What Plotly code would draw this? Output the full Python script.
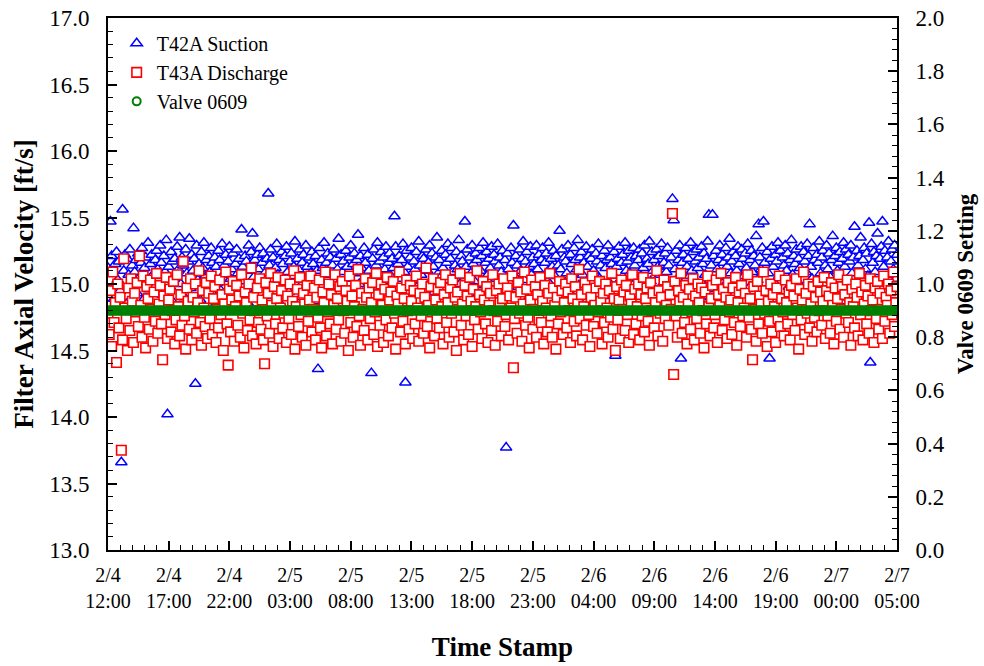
import pandas as pd
import plotly.graph_objects as go

# Logged samples, one every 6 minutes from 2/4 12:00 to 2/7 05:00
START = "2024-02-04 12:00"
STEP = "6min"
SCALE = 100.0  # velocities are stored in hundredths of ft/s

t42a_suction = [
    1512, 1496, 1547, 1521, 1508, 1489, 1515, 1524, 1503, 1517, 1495, 1366, 1556, 1510, 1522, 1485, 1519, 1507, 1526, 1499, 1514,
    1542, 1509, 1518, 1493, 1523, 1505, 1516, 1527, 1488, 1512, 1520, 1501, 1531, 1496, 1515, 1522, 1507, 1479, 1518, 1525, 1511,
    1504, 1529, 1516, 1492, 1521, 1509, 1533, 1402, 1513, 1498, 1524, 1517, 1486, 1519, 1506, 1528, 1511, 1535, 1500, 1520, 1514,
    1490, 1526, 1508, 1517, 1534, 1497, 1522, 1510, 1519, 1425, 1529, 1503, 1515, 1488, 1524, 1512, 1531, 1506, 1518, 1494, 1521,
    1509, 1527, 1516, 1483, 1520, 1513, 1501, 1525, 1518, 1495, 1530, 1507, 1514, 1522, 1489, 1517, 1528, 1504, 1511, 1523, 1498,
    1515, 1526, 1508, 1519, 1492, 1541, 1513, 1502, 1521, 1517, 1486, 1529, 1510, 1524, 1538, 1505, 1518, 1496, 1522, 1511, 1527,
    1500, 1516, 1523, 1508, 1491, 1519, 1568, 1514, 1526, 1503, 1520, 1497, 1512, 1530, 1507, 1518, 1485, 1524, 1515, 1501, 1521,
    1528, 1509, 1494, 1517, 1523, 1506, 1513, 1532, 1499, 1519, 1511, 1526, 1490, 1516, 1522, 1504, 1529, 1513, 1497, 1520, 1508,
    1524, 1515, 1487, 1521, 1510, 1436, 1527, 1503, 1518, 1512, 1531, 1495, 1516, 1523, 1507, 1520, 1492, 1514, 1526, 1501, 1519,
    1511, 1534, 1498, 1522, 1509, 1517, 1488, 1525, 1513, 1504, 1520, 1529, 1496, 1515, 1523, 1508, 1518, 1537, 1500, 1521, 1512,
    1493, 1527, 1516, 1505, 1522, 1510, 1499, 1433, 1519, 1526, 1508, 1514, 1531, 1490, 1517, 1524, 1502, 1520, 1511, 1528, 1495,
    1516, 1523, 1506, 1519, 1512, 1551, 1528, 1497, 1515, 1521, 1504, 1518, 1530, 1509, 1426, 1525, 1513, 1489, 1520, 1527, 1503,
    1517, 1511, 1524, 1498, 1532, 1514, 1507, 1521, 1519, 1485, 1526, 1510, 1516, 1529, 1501, 1523, 1513, 1494, 1520, 1535, 1508,
    1518, 1505, 1525, 1512, 1491, 1522, 1516, 1530, 1503, 1519, 1527, 1509, 1496, 1514, 1524, 1511, 1533, 1500, 1521, 1517, 1506,
    1547, 1513, 1526, 1493, 1520, 1508, 1529, 1515, 1502, 1523, 1518, 1487, 1527, 1510, 1521, 1531, 1499, 1516, 1524, 1507, 1519,
    1512, 1528, 1495, 1522, 1517, 1504, 1530, 1514, 1520, 1509, 1525, 1490, 1518, 1377, 1523, 1511, 1501, 1527, 1516, 1544, 1506,
    1521, 1514, 1498, 1526, 1510, 1519, 1532, 1503, 1517, 1524, 1489, 1513, 1528, 1507, 1520, 1515, 1496, 1529, 1511, 1522, 1505,
    1518, 1527, 1492, 1516, 1523, 1509, 1531, 1500, 1519, 1513, 1525, 1506, 1521, 1497, 1514, 1540, 1511, 1526, 1503, 1520, 1517,
    1508, 1529, 1494, 1522, 1515, 1502, 1527, 1518, 1511, 1533, 1499, 1520, 1524, 1507, 1516, 1486, 1528, 1513, 1521, 1505, 1519,
    1526, 1510, 1497, 1523, 1517, 1530, 1504, 1514, 1521, 1491, 1525, 1512, 1518, 1529, 1501, 1520, 1515, 1507, 1524, 1446, 1513,
    1519, 1528, 1503, 1516, 1522, 1495, 1531, 1510, 1517, 1525, 1508, 1520, 1499, 1527, 1514, 1521, 1488, 1518, 1526, 1506, 1523,
    1512, 1529, 1497, 1519, 1515, 1532, 1502, 1524, 1510, 1518, 1493, 1526, 1513, 1521, 1507, 1530, 1500, 1516, 1523, 1509, 1527,
    1514, 1495, 1520, 1564, 1548, 1511, 1525, 1504, 1518, 1529, 1444, 1516, 1522, 1498, 1527, 1513, 1519, 1506, 1531, 1510, 1524,
    1501, 1517, 1526, 1512, 1520, 1490, 1528, 1515, 1523, 1507, 1519, 1532, 1552, 1503, 1514, 1552, 1521, 1496, 1525, 1511, 1518,
    1529, 1505, 1522, 1516, 1499, 1527, 1513, 1520, 1534, 1508, 1517, 1524, 1492, 1521, 1510, 1528, 1515, 1502, 1526, 1519, 1506,
    1523, 1512, 1530, 1497, 1518, 1525, 1509, 1521, 1514, 1536, 1503, 1545, 1520, 1511, 1527, 1547, 1516, 1494, 1524, 1508, 1444,
    1519, 1528, 1513, 1501, 1522, 1517, 1531, 1506, 1525, 1489, 1520, 1514, 1529, 1510, 1523, 1498, 1518, 1533, 1507, 1521, 1515,
    1526, 1502, 1519, 1512, 1528, 1495, 1524, 1517, 1509, 1530, 1521, 1545, 1513, 1504, 1527, 1518, 1491, 1522, 1516, 1532, 1508,
    1520, 1525, 1499, 1514, 1529, 1511, 1523, 1505, 1518, 1536, 1496, 1521, 1527, 1510, 1516, 1524, 1487, 1519, 1531, 1513, 1526,
    1503, 1522, 1517, 1529, 1508, 1520, 1543, 1500, 1525, 1514, 1521, 1535, 1497, 1518, 1527, 1511, 1523, 1506, 1546, 1441, 1530,
    1516, 1524, 1509, 1521, 1538, 1502, 1519, 1528, 1547, 1513, 1525, 1495, 1520, 1532, 1507, 1517, 1526, 1511, 1529, 1504, 1522,
]

t43a_discharge = [
    1478, 1462, 1495, 1453, 1509, 1471, 1486, 1441, 1500, 1467, 1490, 1375, 1458, 1519, 1482, 1474, 1450, 1497, 1465, 1504, 1487,
    1456, 1493, 1479, 1501, 1468, 1521, 1484, 1460, 1506, 1475, 1452, 1498, 1489, 1466, 1503, 1481, 1457, 1494, 1472, 1508, 1463,
    1485, 1499, 1470, 1443, 1491, 1477, 1505, 1459, 1488, 1496, 1464, 1480, 1502, 1455, 1473, 1507, 1483, 1461, 1492, 1469, 1517,
    1476, 1451, 1497, 1487, 1466, 1504, 1458, 1490, 1479, 1500, 1463, 1486, 1510, 1471, 1454, 1495, 1482, 1468, 1501, 1459, 1493,
    1474, 1506, 1462, 1489, 1498, 1456, 1481, 1467, 1503, 1477, 1492, 1450, 1485, 1509, 1470, 1439, 1496, 1464, 1488, 1502, 1457,
    1483, 1499, 1469, 1491, 1460, 1507, 1478, 1452, 1494, 1486, 1465, 1500, 1473, 1512, 1461, 1490, 1480, 1455, 1497, 1471, 1504,
    1466, 1488, 1458, 1440, 1501, 1476, 1493, 1463, 1508, 1484, 1453, 1498, 1470, 1489, 1505, 1459, 1482, 1495, 1467, 1478, 1503,
    1456, 1491, 1474, 1500, 1462, 1487, 1510, 1451, 1483, 1496, 1468, 1505, 1477, 1460, 1493, 1485, 1454, 1499, 1472, 1488, 1506,
    1464, 1481, 1497, 1458, 1490, 1475, 1503, 1467, 1452, 1494, 1486, 1509, 1461, 1479, 1500, 1470, 1492, 1455, 1484, 1507, 1466,
    1489, 1473, 1498, 1457, 1502, 1480, 1463, 1495, 1487, 1450, 1506, 1471, 1491, 1460, 1483, 1499, 1468, 1511, 1476, 1454, 1493,
    1481, 1465, 1504, 1490, 1458, 1497, 1474, 1486, 1501, 1462, 1479, 1508, 1453, 1492, 1469, 1500, 1484, 1456, 1496, 1473, 1505,
    1461, 1488, 1494, 1467, 1502, 1478, 1451, 1491, 1485, 1509, 1464, 1497, 1472, 1489, 1455, 1503, 1480, 1466, 1499, 1487, 1459,
    1495, 1470, 1506, 1482, 1457, 1493, 1476, 1500, 1463, 1490, 1512, 1468, 1484, 1452, 1498, 1479, 1504, 1461, 1488, 1474, 1496,
    1467, 1501, 1483, 1455, 1492, 1507, 1471, 1486, 1460, 1497, 1478, 1503, 1464, 1490, 1450, 1494, 1481, 1508, 1469, 1485, 1458,
    1499, 1476, 1491, 1462, 1505, 1487, 1453, 1496, 1473, 1483, 1510, 1466, 1492, 1479, 1459, 1502, 1488, 1470, 1498, 1456, 1484,
    1493, 1465, 1507, 1480, 1454, 1495, 1472, 1500, 1486, 1461, 1489, 1504, 1468, 1477, 1497, 1458, 1491, 1482, 1506, 1437, 1474,
    1490, 1463, 1501, 1478, 1494, 1457, 1485, 1509, 1469, 1496, 1475, 1452, 1488, 1503, 1466, 1481, 1498, 1460, 1492, 1473, 1505,
    1471, 1487, 1455, 1499, 1482, 1464, 1493, 1508, 1476, 1460, 1497, 1484, 1451, 1490, 1470, 1502, 1479, 1495, 1462, 1486, 1500,
    1467, 1494, 1480, 1456, 1504, 1489, 1472, 1498, 1461, 1485, 1511, 1474, 1492, 1458, 1483, 1501, 1469, 1496, 1477, 1453, 1490,
    1506, 1468, 1484, 1497, 1463, 1479, 1502, 1487, 1455, 1493, 1471, 1500, 1482, 1460, 1495, 1475, 1508, 1466, 1489, 1450, 1498,
    1473, 1488, 1459, 1503, 1481, 1494, 1465, 1499, 1477, 1456, 1491, 1485, 1507, 1462, 1496, 1470, 1483, 1500, 1458, 1492, 1476,
    1505, 1464, 1489, 1497, 1472, 1454, 1501, 1480, 1493, 1467, 1486, 1510, 1461, 1495, 1478, 1490, 1457, 1503, 1474, 1484, 1498,
    1469, 1492, 1481, 1553, 1432, 1502, 1476, 1460, 1495, 1487, 1508, 1463, 1490, 1471, 1499, 1455, 1485, 1496, 1466, 1479, 1504,
    1458, 1491, 1474, 1500, 1486, 1463, 1497, 1480, 1452, 1494, 1470, 1506, 1483, 1461, 1489, 1499, 1467, 1477, 1503, 1456, 1492,
    1484, 1508, 1465, 1496, 1473, 1490, 1459, 1501, 1479, 1488, 1462, 1497, 1471, 1505, 1454, 1486, 1494, 1468, 1499, 1476, 1482,
    1493, 1460, 1507, 1475, 1489, 1466, 1443, 1498, 1481, 1457, 1502, 1470, 1491, 1485, 1463, 1509, 1478, 1495, 1453, 1487, 1472,
    1500, 1464, 1492, 1483, 1456, 1497, 1474, 1506, 1468, 1489, 1479, 1461, 1503, 1486, 1470, 1494, 1458, 1499, 1477, 1491, 1465,
    1504, 1482, 1451, 1496, 1473, 1488, 1509, 1462, 1493, 1478, 1500, 1467, 1485, 1457, 1498, 1475, 1490, 1464, 1502, 1480, 1494,
    1469, 1487, 1505, 1459, 1495, 1476, 1491, 1463, 1501, 1484, 1455, 1497, 1472, 1489, 1507, 1466, 1481, 1498, 1460, 1492, 1478,
    1503, 1471, 1486, 1454, 1496, 1483, 1467, 1500, 1490, 1461, 1508, 1477, 1494, 1458, 1485, 1499, 1470, 1491, 1463, 1504, 1480,
    1488, 1456, 1497, 1474, 1502, 1466, 1493, 1481, 1459, 1506, 1472, 1490, 1484, 1500, 1463, 1495, 1477, 1509, 1468, 1486, 1498,
]

# Valve 0609 held at a fixed setting for the whole run
VALVE_0609_SETTING = 0.9
valve_0609 = [VALVE_0609_SETTING] * len(t42a_suction)

x_tick_labels = [
    "2/4<br>12:00", "2/4<br>17:00", "2/4<br>22:00", "2/5<br>03:00", "2/5<br>08:00",
    "2/5<br>13:00", "2/5<br>18:00", "2/5<br>23:00", "2/6<br>04:00", "2/6<br>09:00",
    "2/6<br>14:00", "2/6<br>19:00", "2/7<br>00:00", "2/7<br>05:00",
]

t_suction = pd.date_range(START, periods=len(t42a_suction), freq=STEP)
t_discharge = pd.date_range(START, periods=len(t43a_discharge), freq=STEP)
t_valve = pd.date_range(START, periods=len(valve_0609), freq=STEP)
x_tick_vals = pd.date_range(START, periods=len(x_tick_labels), freq="5h")

FONT = "Liberation Serif, Times New Roman, serif"

fig = go.Figure()
fig.add_trace(go.Scatter(
    x=t_suction, y=[v / SCALE for v in t42a_suction], mode="markers",
    name="T42A Suction", legendgroup="a",
    marker=dict(symbol="triangle-up", size=10, color="white",
                line=dict(color="#0000ff", width=1.5)),
))
fig.add_trace(go.Scatter(
    x=t_discharge, y=[v / SCALE for v in t43a_discharge], mode="markers",
    name="T43A Discharge", legendgroup="b",
    marker=dict(symbol="square", size=9.5, color="white",
                line=dict(color="#ff0000", width=1.6)),
))
fig.add_trace(go.Scatter(
    x=t_valve, y=valve_0609, mode="markers", yaxis="y2",
    name="Valve 0609", legendgroup="c",
    marker=dict(symbol="circle-open", size=8, color="#008000",
                line=dict(color="#008000", width=2)),
))

axis_common = dict(
    showline=True, linecolor="black", linewidth=2,
    ticks="inside", ticklen=9, tickwidth=1.5, tickcolor="black",
    showgrid=False, zeroline=False, automargin=False,
)

fig.update_layout(
    width=984, height=666,
    margin=dict(l=108, r=87, t=18, b=116),
    paper_bgcolor="white", plot_bgcolor="white",
    font=dict(family=FONT, color="black"),
    showlegend=True,
    legend=dict(
        x=0.011, y=0.989, xanchor="left", yanchor="top",
        bgcolor="rgba(0,0,0,0)", borderwidth=0,
        font=dict(family=FONT, size=20, color="black"),
        traceorder="grouped", tracegroupgap=0,
    ),
    xaxis=dict(
        **axis_common,
        tickfont=dict(family=FONT, size=20, color="black"),
        type="date",
        range=[t_suction[0], x_tick_vals[-1]],
        mirror=True,
        tickmode="array", tickvals=x_tick_vals, ticktext=x_tick_labels,
        ticklabelstandoff=6,
        minor=dict(ticks="inside", ticklen=5, tickwidth=1.2, tickcolor="black",
                   dtick=3600000, tick0=START),
        title=dict(text="<b>Time Stamp</b>", font=dict(family=FONT, size=27),
                   standoff=26),
    ),
    yaxis=dict(
        **axis_common,
        tickfont=dict(family=FONT, size=23, color="black"),
        range=[13, 17], dtick=0.5, tickformat=".1f",
        ticklabelstandoff=12,
        minor=dict(ticks="inside", ticklen=5, tickwidth=1.2, tickcolor="black",
                   dtick=0.1),
        title=dict(text="<b>Filter Axial Velocity [ft/s]</b>",
                   font=dict(family=FONT, size=27), standoff=8),
    ),
    yaxis2=dict(
        **axis_common,
        tickfont=dict(family=FONT, size=23, color="black"),
        overlaying="y", side="right",
        range=[0, 2], dtick=0.2, tickformat=".1f",
        ticklabelstandoff=12,
        minor=dict(ticks="inside", ticklen=5, tickwidth=1.2, tickcolor="black",
                   dtick=0.04),
        title=dict(text="<b>Valve 0609 Setting</b>",
                   font=dict(family=FONT, size=23), standoff=13),
    ),
)

fig.write_html("out.html")
